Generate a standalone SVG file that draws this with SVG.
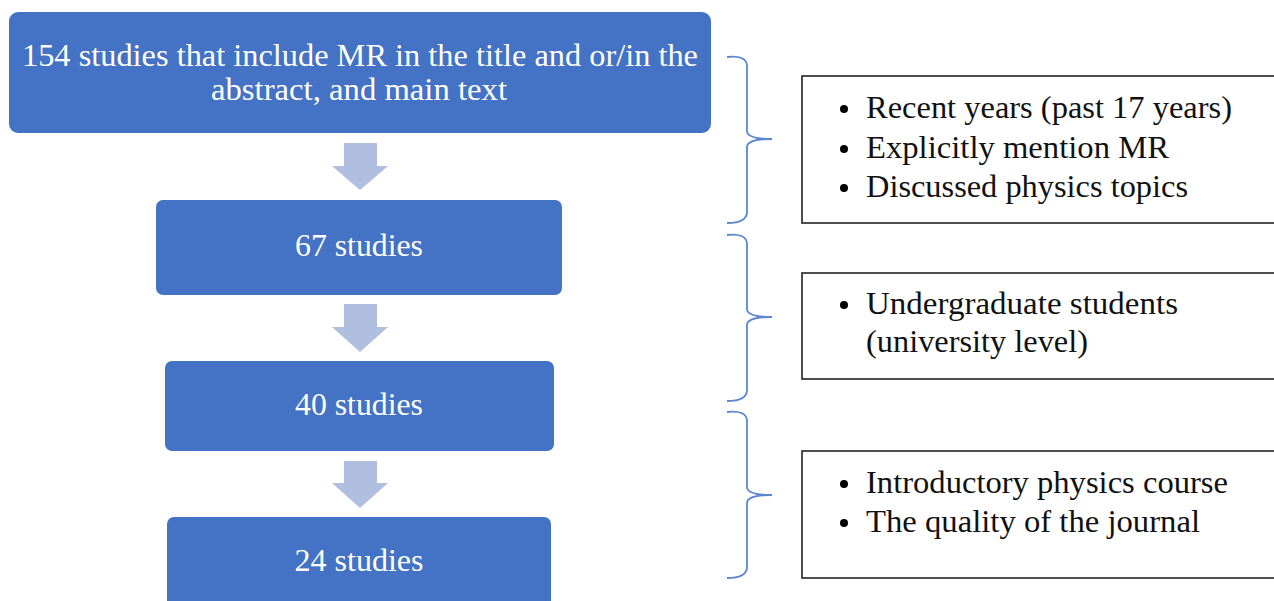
<svg xmlns="http://www.w3.org/2000/svg" width="1274" height="601" viewBox="0 0 1274 601">
<style>
.step{fill:#4472C4;}
.st{font-family:"Liberation Serif","Times New Roman",serif;font-size:31px;fill:#ffffff;text-anchor:middle;}
.crit{fill:#ffffff;stroke:#222222;stroke-width:1.6;}
.ct{font-family:"Liberation Serif","Times New Roman",serif;font-size:31px;fill:#111111;}
.arr{fill:#B0BEE0;}
.brace{fill:none;stroke:#5B86D2;stroke-width:1.8;}
</style>
<rect width="1274" height="601" fill="#ffffff"/>
<g id="connectors">
<path class="arr" d="M344,143 H377 V166 H388 L360,190 L332,166 H344 Z"/>
<path class="arr" d="M344,304 H377 V327 H388 L360,352 L332,327 H344 Z"/>
<path class="arr" d="M344,461 H377 V483 H388 L360,508 L332,483 H344 Z"/>
<path class="brace" d="M727,57 Q747,55 747,66 V131 Q747,139 772,139 M772,139 Q747,139 747,147 V212 Q747,223 727,223"/>
<path class="brace" d="M727,235 Q747,233 747,244 V309 Q747,317 772,317 M772,317 Q747,317 747,325 V390 Q747,401 727,401"/>
<path class="brace" d="M727,412 Q747,410 747,421 V487 Q747,495 772,495 M772,495 Q747,495 747,503 V567 Q747,578 727,578"/>
</g>
<g id="node1">
<rect class="step" x="9" y="12" width="702" height="121" rx="9"/>
<text class="st" x="360" y="66" textLength="676" lengthAdjust="spacingAndGlyphs">154 studies that include MR in the title and or/in the</text>
<text class="st" x="359" y="100" textLength="296" lengthAdjust="spacingAndGlyphs">abstract, and main text</text>
</g>
<g id="node2">
<rect class="step" x="156" y="200" width="406" height="95" rx="7"/>
<text class="st" x="359" y="256" textLength="128" lengthAdjust="spacingAndGlyphs">67 studies</text>
</g>
<g id="node3">
<rect class="step" x="165" y="361" width="389" height="90" rx="7"/>
<text class="st" x="359" y="415" textLength="128" lengthAdjust="spacingAndGlyphs">40 studies</text>
</g>
<g id="node4">
<rect class="step" x="167" y="517" width="384" height="100" rx="7"/>
<text class="st" x="359" y="571" textLength="129" lengthAdjust="spacingAndGlyphs">24 studies</text>
</g>
<g id="critA">
<rect class="crit" x="802" y="76" width="480" height="147"/>
<circle cx="844" cy="109" r="4"/>
<circle cx="844" cy="149" r="4"/>
<circle cx="844" cy="188" r="4"/>
<text class="ct" x="866" y="118" textLength="366" lengthAdjust="spacingAndGlyphs">Recent years (past 17 years)</text>
<text class="ct" x="866" y="158" textLength="303" lengthAdjust="spacingAndGlyphs">Explicitly mention MR</text>
<text class="ct" x="866" y="197" textLength="322" lengthAdjust="spacingAndGlyphs">Discussed physics topics</text>
</g>
<g id="critB">
<rect class="crit" x="802" y="273" width="480" height="106"/>
<circle cx="844" cy="305" r="4"/>
<text class="ct" x="866" y="314" textLength="312" lengthAdjust="spacingAndGlyphs">Undergraduate students</text>
<text class="ct" x="866" y="352" textLength="222" lengthAdjust="spacingAndGlyphs">(university level)</text>
</g>
<g id="critC">
<rect class="crit" x="802" y="451" width="480" height="127"/>
<circle cx="844" cy="484" r="4"/>
<circle cx="844" cy="523" r="4"/>
<text class="ct" x="866" y="493" textLength="362" lengthAdjust="spacingAndGlyphs">Introductory physics course</text>
<text class="ct" x="866" y="532" textLength="334" lengthAdjust="spacingAndGlyphs">The quality of the journal</text>
</g>
</svg>
